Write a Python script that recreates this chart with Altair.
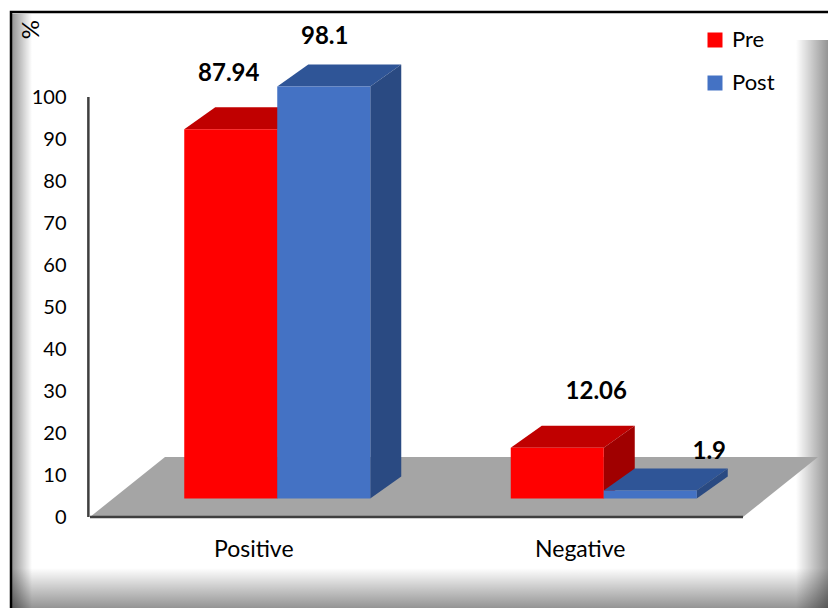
import altair as alt
import pandas as pd

# ---- data ----
categories = ["Positive", "Negative"]
series = ["Pre", "Post"]
pre_values = [87.94, 12.06]
post_values = [98.1, 1.9]
y_ticks = [0, 10, 20, 30, 40, 50, 60, 70, 80, 90, 100]

# ---- styling / layout ----
FONT = "Lato"
FRONT = {"Pre": "#FF0000", "Post": "#4472C4"}
TOP = {"Pre": "#C00000", "Post": "#2F5597"}
SIDE = {"Pre": "#A00000", "Post": "#2A4A82"}
FLOOR = "#A5A5A5"
AXIS_LINE = "#3F3F3F"

W, H = 738, 517              # plot area (pixels)
PAD_L, PAD_B = 90, 91
PX_X = 326.5                 # pixels per category slot
PX_Y = 4.2                   # pixels per percentage point

BAR_W = 93 / PX_X            # bar width in category units
FRONT_DX, FRONT_DY = 24 / PX_X, 18.5 / PX_Y    # bars stand back from the floor edge
DEPTH_DX, DEPTH_DY = 31 / PX_X, 22 / PX_Y      # bar depth (oblique projection)
FLOOR_DX, FLOOR_DY = 75 / PX_X, 60 / PX_Y      # floor depth

# value-label nudges in pixels (dx, dy above the back top edge)
LABEL_NUDGE = {
    ("Positive", "Pre"): (-2, 33),
    ("Positive", "Post"): (1, 27),
    ("Negative", "Pre"): (39, 34),
    ("Negative", "Post"): (59, 17),
}

xs = alt.Scale(domain=[0, W / PX_X], nice=False, zero=False)
ys = alt.Scale(domain=[0, H / PX_Y], nice=False, zero=False)

values = {"Pre": pre_values, "Post": post_values}
n = len(categories)
one = pd.DataFrame({"a": [0]})


# ---- frame decoration (bevelled border) ----
def band(x, x2, y, y2, horizontal, reverse):
    c0, c1 = "rgba(0,0,0,0.42)", "rgba(0,0,0,0)"
    if reverse:
        c0, c1 = c1, c0
    grad = alt.Gradient(
        gradient="linear",
        stops=[alt.GradientStop(color=c0, offset=0),
               alt.GradientStop(color=c1, offset=1)],
        x1=0, y1=0, x2=1 if horizontal else 0, y2=0 if horizontal else 1)
    return alt.Chart(one).mark_rect(color=grad).encode(
        x=alt.value(x - PAD_L), x2=alt.value(x2 - PAD_L),
        y=alt.value(y), y2=alt.value(y2))


frame_layers = [
    band(12, 32, 14, 608, True, False),
    band(12, 828, 568, 608, False, True),
    band(796, 828, 40, 608, True, True),
    alt.Chart(one).mark_rect(fill=None, stroke="black", strokeWidth=2.5).encode(
        x=alt.value(11 - PAD_L), x2=alt.value(840 - PAD_L),
        y=alt.value(12), y2=alt.value(640)),
]

# ---- floor and axis lines ----
floor = pd.DataFrame({"y": [0, FLOOR_DY], "xl": [0, FLOOR_DX],
                      "xr": [n, n + FLOOR_DX]})
floor_layer = alt.Chart(floor).mark_area(orient="horizontal", color=FLOOR).encode(
    y=alt.Y("y:Q", scale=ys, axis=alt.Axis(
        values=y_ticks, domain=False, ticks=False, grid=False,
        labelFontSize=20, labelPadding=24, labelFont=FONT, labelColor="black",
        title="%", titleFontSize=24, titleFont=FONT, titleFontWeight="normal",
        titleColor="black", titleX=-59, titleY=29, titleAngle=270,
        titleAlign="center", titleBaseline="middle")),
    x=alt.X("xl:Q", scale=xs, axis=alt.Axis(
        values=[k + 0.5 for k in range(n)],
        labelExpr=f"{categories!r}[floor(datum.value)]",
        domain=False, ticks=False, grid=False, labelFontSize=23,
        labelPadding=21, labelFont=FONT, labelColor="black", title=None)),
    x2="xr:Q",
)

y_line = alt.Chart(one).mark_rule(color=AXIS_LINE, strokeWidth=2.5).encode(
    x=alt.datum(-0.005, scale=xs), y=alt.datum(0, scale=ys),
    y2=alt.datum(max(y_ticks)))
x_line = alt.Chart(one).mark_rule(color=AXIS_LINE, strokeWidth=2.5).encode(
    x=alt.datum(0, scale=xs), x2=alt.datum(n),
    y=alt.datum(0, scale=ys))

# ---- 3-D bars: top face, side face, front face for each bar ----
bar_layers, labels = [], []
for j, s in enumerate(series):
    for i, cat in enumerate(categories):
        v = values[s][i]
        centre = i + 0.5 + FRONT_DX
        x0 = centre - BAR_W + j * BAR_W
        x1 = x0 + BAR_W
        base, top = FRONT_DY, FRONT_DY + v

        top_face = pd.DataFrame({
            "y": [top, top + DEPTH_DY],
            "xl": [x0, x0 + DEPTH_DX],
            "xr": [x1, x1 + DEPTH_DX]})
        side_face = pd.DataFrame({
            "x": [x1, x1 + DEPTH_DX],
            "lo": [base, base + DEPTH_DY],
            "hi": [top, top + DEPTH_DY]})
        front_face = pd.DataFrame({
            "series": [s], "x0": [x0], "x1": [x1], "base": [base], "top": [top]})

        bar_layers.append(
            alt.Chart(top_face).mark_area(orient="horizontal", color=TOP[s]).encode(
                y=alt.Y("y:Q", scale=ys), x=alt.X("xl:Q", scale=xs), x2="xr:Q"))
        bar_layers.append(
            alt.Chart(side_face).mark_area(orient="vertical", color=SIDE[s]).encode(
                x=alt.X("x:Q", scale=xs), y=alt.Y("lo:Q", scale=ys), y2="hi:Q"))
        bar_layers.append(
            alt.Chart(front_face).mark_rect().encode(
                x=alt.X("x0:Q", scale=xs), x2="x1:Q",
                y=alt.Y("base:Q", scale=ys), y2="top:Q",
                color=alt.Color(
                    "series:N",
                    scale=alt.Scale(domain=series,
                                    range=[FRONT[k] for k in series]),
                    legend=alt.Legend(
                        title=None, orient="none", legendX=614, legendY=29,
                        symbolType="square", symbolSize=225,
                        symbolStrokeWidth=0, labelFontSize=22,
                        labelFont=FONT, labelColor="black", labelOffset=6,
                        rowPadding=21))))

        ndx, ndy = LABEL_NUDGE[(cat, s)]
        labels.append(dict(txt=f"{v:g}",
                           lx=(x0 + x1) / 2 + ndx / PX_X,
                           ly=top + DEPTH_DY + ndy / PX_Y))

label_layer = alt.Chart(pd.DataFrame(labels)).mark_text(
    font=FONT, fontSize=24, fontWeight="bold", color="black",
    align="center", baseline="middle").encode(
    x=alt.X("lx:Q", scale=xs), y=alt.Y("ly:Q", scale=ys), text="txt:N")

chart = alt.layer(
    *frame_layers, floor_layer, y_line, x_line, *bar_layers, label_layer
).properties(
    width=W, height=H,
    autosize=alt.AutoSizeParams(type="none"),
    padding={"left": PAD_L, "top": 0, "right": 0, "bottom": PAD_B},
    background="white",
).configure_view(stroke=None)

chart.save("out.html", embed_options={"renderer": "svg", "actions": False})
